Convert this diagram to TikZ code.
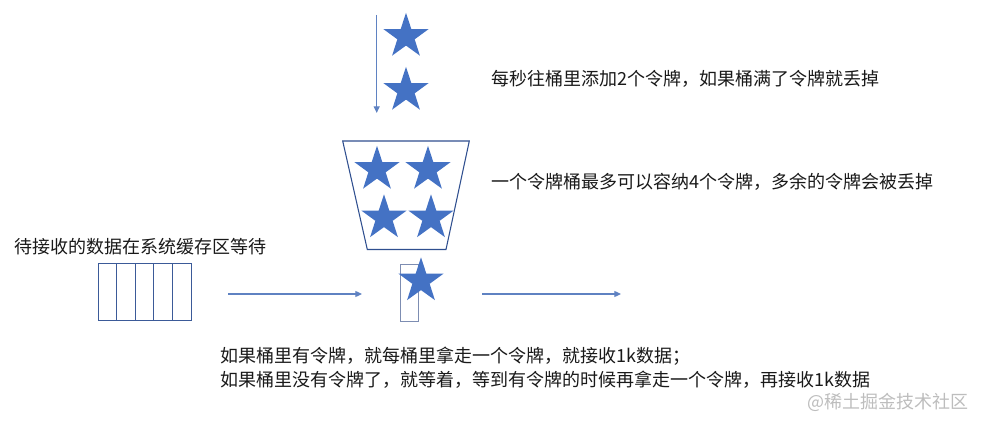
\documentclass[tikz,border=0pt]{standalone}
\usepackage{fontspec}
\newfontfamily\cjk{Noto Sans CJK SC}
\usetikzlibrary{shapes.geometric,arrows.meta}
\definecolor{starblue}{HTML}{4472C4}
\definecolor{arrowblue}{HTML}{5F82C2}
\definecolor{bucketblue}{HTML}{2F4F8F}
\definecolor{bufblue}{HTML}{3B5A98}
\definecolor{gateblue}{HTML}{7D8DB2}
\definecolor{marktext}{HTML}{BDBDBD}
\tikzset{
  tok/.style={star, star points=5, star point ratio=2.6, fill=starblue, draw=none, inner sep=0pt, minimum size=35.5pt},
  flow/.style={draw=arrowblue, line width=0.9pt, -{Triangle[length=5pt,width=4.5pt]}},
  cell/.style={draw=bufblue, line width=0.75pt, minimum width=13.95pt, minimum height=42.75pt, inner sep=0pt},
  label/.style={font=\cjk\fontsize{13.5}{16}\selectfont, anchor=west, inner sep=0pt, text=black!90},
}
\begin{document}
\begin{tikzpicture}[x=0.75pt,y=-0.75pt]
\useasboundingbox (0,0) rectangle (982,427);
% incoming arrow
\coordinate (ins) at (376.7,15);
\coordinate (ine) at (376.7,113);
\draw[flow] (ins) -- (ine);
% falling tokens
\node[tok] (t1) at (406,36.5) {};
\node[tok] (t2) at (406,90.5) {};
\node[label] (l1) at (491,78.5) {每秒往桶里添加2个令牌，如果桶满了令牌就丢掉};
% bucket
\draw[bucketblue, line width=0.8pt] (342.7,141) -- (469.3,141) -- (446,249.5) -- (367.3,249.5) -- cycle;
\node[tok] (b1) at (377,169.5) {};
\node[tok] (b2) at (428,169.5) {};
\node[tok] (b3) at (384,218) {};
\node[tok] (b4) at (431,218) {};
\node[label] (l2) at (491,181.5) {一个令牌桶最多可以容纳4个令牌，多余的令牌会被丢掉};
% buffer
\node[label] (l3) at (14,246.5) {待接收的数据在系统缓存区等待};
\foreach \i in {0,...,4} {
  \node[cell] (c\i) at ({107.3+18.6*\i},292.5) {};
}
\coordinate (a1s) at (228,294);
\coordinate (a1e) at (362,294);
\draw[flow] (a1s) -- (a1e);
% gate
\node[draw=gateblue, line width=0.9pt, minimum width=13.5pt, minimum height=42.75pt, inner sep=0pt] (gate) at (409.5,293) {};
\node[tok] (g1) at (421,281) {};
\coordinate (a2s) at (482,294);
\coordinate (a2e) at (621,294);
\draw[flow] (a2s) -- (a2e);
% explanation
\node[label] (l4) at (220,356) {如果桶里有令牌，就每桶里拿走一个令牌，就接收1k数据；};
\node[label] (l5) at (220,379.5) {如果桶里没有令牌了，就等着，等到有令牌的时候再拿走一个令牌，再接收1k数据};
\node[label, text=marktext, font=\cjk\fontsize{13.5}{16}\selectfont] (wm) at (807,402) {@稀土掘金技术社区};
\end{tikzpicture}
\end{document}
